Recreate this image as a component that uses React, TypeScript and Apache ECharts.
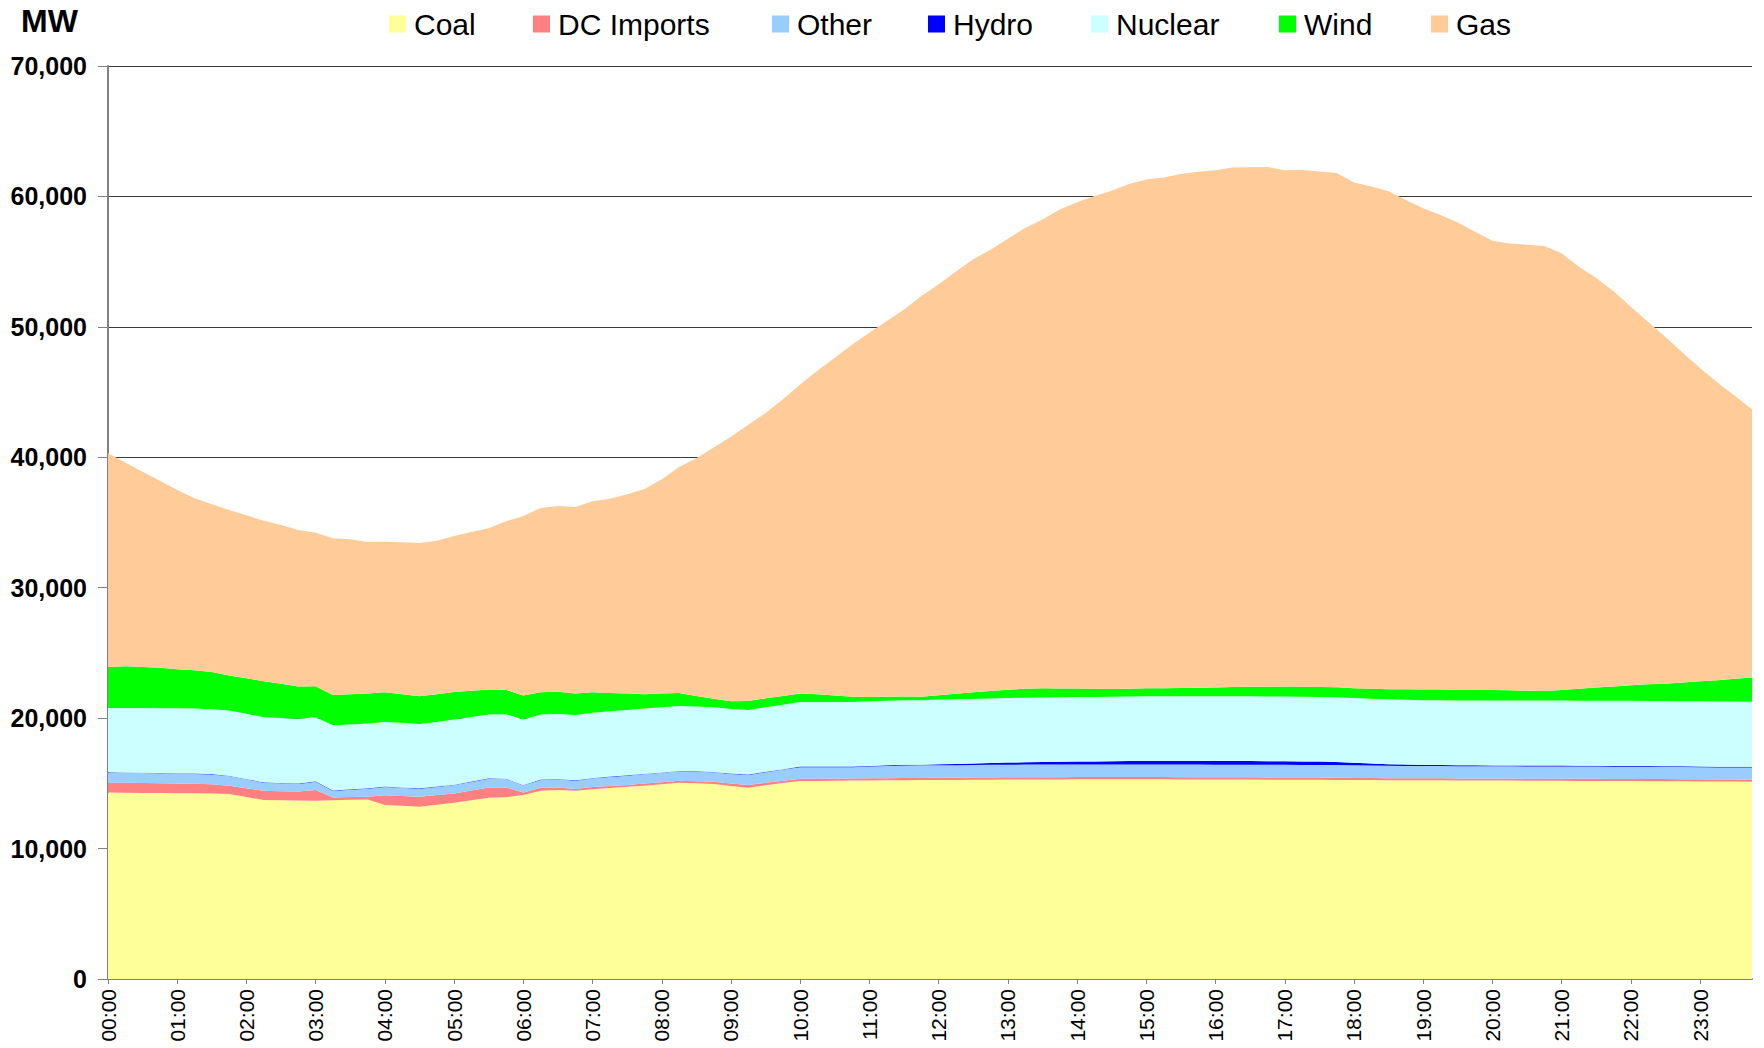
import React, { useEffect, useRef } from "react";
import * as echarts from "echarts";

const times: string[] = [];
for (let h = 0; h < 24; h++) {
  for (const m of ["00", "15", "30", "45"]) times.push(`${String(h).padStart(2, "0")}:${m}`);
}

const coal = [
  14290, 14280, 14270, 14260, 14250, 14240, 14220, 14180, 13950, 13720,
  13700, 13680, 13670, 13700, 13740, 13770, 13340, 13280, 13210, 13360,
  13520, 13710, 13900, 13930, 14110, 14440, 14490, 14440, 14540, 14640,
  14740, 14820, 14930, 15050, 15000, 14950, 14800, 14670, 14850, 15020,
  15180, 15190, 15200, 15210, 15220, 15230, 15240, 15250, 15260, 15260,
  15270, 15280, 15290, 15300, 15300, 15300, 15310, 15310, 15310, 15310,
  15310, 15310, 15300, 15300, 15290, 15290, 15290, 15280, 15280, 15270,
  15270, 15260, 15260, 15250, 15240, 15240, 15230, 15230, 15220, 15220,
  15210, 15210, 15200, 15200, 15200, 15190, 15190, 15180, 15180, 15170,
  15170, 15160, 15150, 15140, 15140, 15130,
];

const dcImports = [
  760, 760, 750, 750, 740, 730, 710, 640, 680, 720,
  700, 690, 820, 210, 210, 210, 740, 760, 770, 740,
  710, 750, 790, 760, 180, 230, 200, 120, 180, 160,
  140, 170, 160, 150, 170, 180, 180, 200, 190, 180,
  170, 170, 170, 170, 170, 170, 170, 170, 170, 170,
  170, 170, 170, 170, 170, 170, 170, 170, 170, 170,
  170, 170, 170, 170, 170, 170, 170, 170, 170, 170,
  170, 170, 160, 160, 160, 160, 160, 160, 160, 160,
  160, 160, 160, 160, 160, 160, 160, 160, 160, 160,
  160, 160, 160, 160, 160, 160,
];

const other = [
  770, 770, 770, 760, 760, 750, 750, 740, 680, 610,
  600, 590, 640, 510, 560, 610, 640, 620, 610, 620,
  640, 650, 670, 640, 560, 590, 620, 640, 670, 690,
  710, 720, 720, 720, 720, 720, 740, 770, 820, 860,
  890, 880, 870, 860, 900, 940, 960, 960, 960, 960,
  960, 970, 970, 970, 970, 970, 970, 970, 970, 970,
  970, 970, 970, 970, 970, 970, 970, 970, 970, 970,
  970, 970, 960, 950, 950, 940, 940, 940, 940, 940,
  940, 940, 940, 940, 940, 940, 940, 940, 940, 940,
  930, 930, 930, 920, 920, 920,
];

const hydro = [
  30, 30, 30, 30, 30, 30, 30, 30, 30, 30,
  30, 30, 30, 30, 30, 30, 30, 30, 30, 30,
  30, 30, 30, 30, 30, 30, 30, 30, 30, 30,
  30, 30, 30, 30, 30, 30, 30, 30, 30, 30,
  50, 50, 50, 50, 50, 50, 50, 50, 80, 100,
  120, 140, 160, 180, 200, 210, 220, 230, 240, 260,
  270, 270, 280, 280, 280, 280, 280, 280, 280, 270,
  260, 240, 200, 160, 120, 100, 80, 70, 60, 60,
  60, 60, 60, 60, 60, 60, 60, 60, 60, 60,
  60, 60, 60, 60, 60, 60,
];

const nuclear = [
  4930, 4940, 4950, 4960, 4970, 4980, 4980, 4990, 4990, 4990,
  4980, 4960, 4910, 5010, 4980, 4960, 4960, 4950, 4940, 4960,
  4990, 4940, 4880, 4940, 5010, 4980, 4980, 5010, 5000, 5000,
  5010, 5000, 4990, 4980, 4970, 4960, 4960, 4950, 4950, 4940,
  4940, 4950, 4950, 4950, 4950, 4950, 4950, 4950, 4950, 4950,
  4950, 4950, 4950, 4950, 4950, 4950, 4950, 4950, 4950, 4950,
  4960, 4960, 4960, 4960, 4960, 4960, 4960, 4960, 4960, 4960,
  4960, 4970, 4970, 4970, 4970, 4970, 4970, 4970, 4970, 4970,
  4990, 4990, 4990, 4990, 4990, 4990, 4990, 4990, 4990, 4990,
  4990, 4990, 4990, 4990, 4990, 4990,
];

const wind = [
  3150, 3200, 3150, 3100, 3000, 2950, 2850, 2680, 2720, 2760,
  2620, 2480, 2370, 2320, 2310, 2300, 2270, 2200, 2120, 2120,
  2120, 2020, 1920, 1870, 1840, 1710, 1710, 1640, 1560, 1400,
  1250, 1100, 1050, 1000, 800, 650, 590, 690, 680, 670,
  660, 600, 500, 400, 330, 300, 280, 260, 330, 430,
  520, 580, 640, 680, 700, 680, 650, 620, 600, 600,
  610, 620, 630, 650, 680, 710, 730, 750, 760, 760,
  760, 750, 740, 760, 780, 800, 810, 820, 810, 800,
  800, 780, 750, 730, 800, 920, 1000, 1100, 1200, 1270,
  1330, 1430, 1530, 1640, 1750, 1860,
];

const gas = [
  16370, 15620, 14980, 14340, 13750, 13170, 12860, 12700, 12500, 12310,
  12180, 11990, 11780, 12010, 11880, 11620, 11550, 11640, 11750, 11780,
  11950, 12170, 12360, 12920, 13770, 14130, 14230, 14300, 14640, 14910,
  15280, 15730, 16430, 17320, 18240, 19260, 20280, 21190, 21880, 22750,
  23690, 24810, 25890, 27000, 27930, 28810, 29680, 30730, 31520, 32370,
  33190, 33830, 34580, 35330, 35950, 36710, 37280, 37790, 38200, 38690,
  39000, 39160, 39410, 39570, 39650, 39830, 39840, 39850, 39580, 39630,
  39530, 39440, 38770, 38520, 38170, 37520, 36910, 36390, 35840, 35150,
  34450, 34250, 34200, 34110, 33490, 32350, 31410, 30300, 29010, 27790,
  26590, 25280, 24030, 22820, 21690, 20560,
];

const seriesNames = ["Coal", "DC Imports", "Other", "Hydro", "Nuclear", "Wind", "Gas"];
const seriesColors = ["#FFFF99", "#FF8080", "#99CCFF", "#0000FF", "#CCFFFF", "#00FF00", "#FFCC99"];
const seriesData = [coal, dcImports, other, hydro, nuclear, wind, gas];
const legendLefts = [389, 533, 772, 928, 1091, 1279, 1431];

const FONT = "'Liberation Sans', Arial, sans-serif";

export default function App() {
  const ref = useRef<HTMLDivElement>(null);
  useEffect(() => {
    if (!ref.current) return;
    const chart = echarts.init(ref.current, undefined, { renderer: "svg" });
    chart.setOption({
      animation: false,
      backgroundColor: "#ffffff",
      textStyle: { fontFamily: FONT },
      grid: { left: 108, right: 12, top: 66, bottom: 69, containLabel: false },
      legend: seriesNames.map((n, i) => ({
        data: [n],
        left: legendLefts[i],
        top: 9,
        padding: 0,
        icon: "rect",
        itemWidth: 17,
        itemHeight: 17,
        textStyle: { fontSize: 30, color: "#000", fontFamily: FONT, padding: [0, 0, 0, 3] },
        selectedMode: false,
      })),
      graphic: [
        {
          type: "text",
          left: 21,
          top: 5,
          style: { text: "MW", font: `bold 32px ${FONT}`, fill: "#000" },
        },
      ],
      xAxis: {
        type: "category",
        data: times,
        boundaryGap: false,
        axisLine: { show: true, lineStyle: { color: "#808080", width: 2 } },
        axisTick: { show: true, interval: 3, length: 5, lineStyle: { color: "#808080", width: 1 } },
        axisLabel: { interval: 3, rotate: 90, fontSize: 21, color: "#000", margin: 10, fontFamily: FONT },
        splitLine: { show: false },
      },
      yAxis: {
        type: "value",
        min: 0,
        max: 70000,
        interval: 10000,
        axisLine: { show: true, lineStyle: { color: "#808080", width: 2 } },
        axisTick: { show: true, length: 10, lineStyle: { color: "#808080", width: 1 } },
        axisLabel: {
          fontSize: 25,
          fontWeight: "bold",
          color: "#000",
          margin: 21,
          fontFamily: FONT,
          formatter: (v: number) => v.toLocaleString("en-US"),
        },
        splitLine: { show: true, lineStyle: { color: "#3a3a3a", width: 1 } },
      },
      series: seriesNames.map((n, i) => ({
        name: n,
        type: "line",
        stack: "total",
        data: seriesData[i],
        symbol: "none",
        showSymbol: false,
        smooth: false,
        lineStyle: { width: 0, color: seriesColors[i] },
        itemStyle: { color: seriesColors[i] },
        areaStyle: { color: seriesColors[i], opacity: 1 },
        z: 2,
      })),
    });
    return () => chart.dispose();
  }, []);
  return (
    <div
      ref={ref}
      style={{ position: "fixed", left: 0, top: 0, width: 1764, height: 1048, background: "#fff" }}
    />
  );
}
